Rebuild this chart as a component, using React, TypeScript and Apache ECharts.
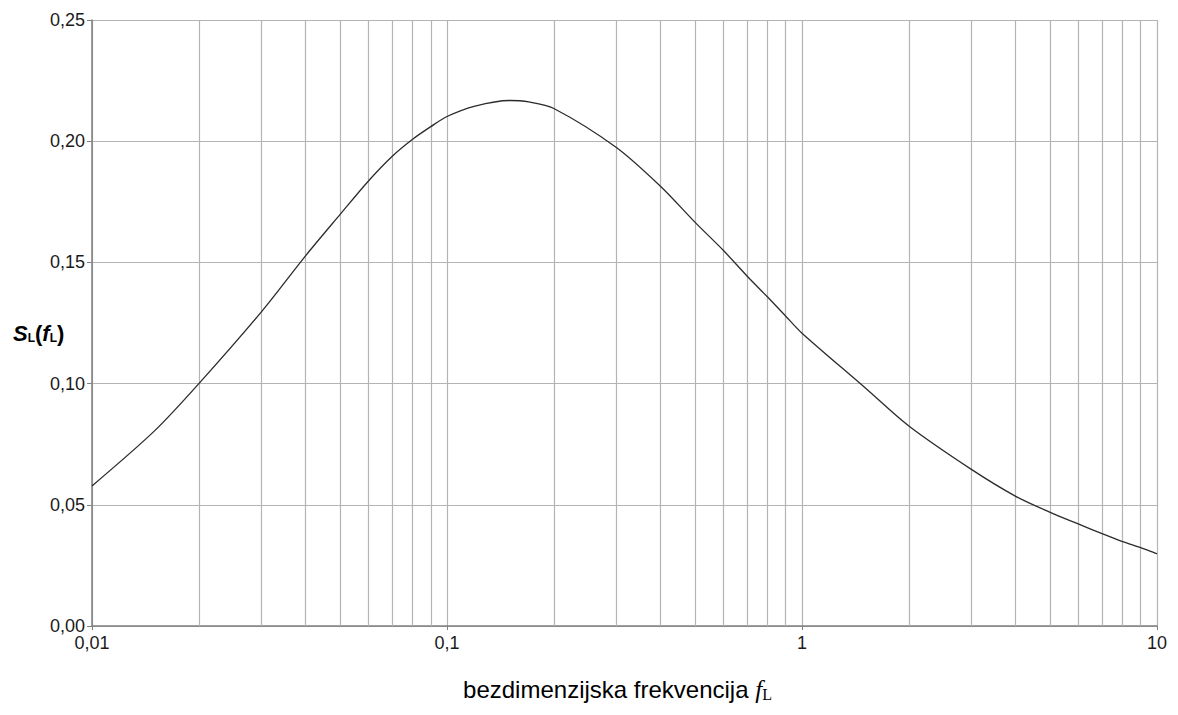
import React, { useEffect, useRef } from "react";
import * as echarts from "echarts";

const freqs = [0.01, 0.015, 0.02, 0.03, 0.04, 0.05, 0.06, 0.07, 0.08, 0.09, 0.1, 0.12, 0.15, 0.17, 0.2, 0.3, 0.4, 0.5, 0.6, 0.7, 0.8, 0.9, 1, 1.5, 2, 3, 4, 5, 6, 7, 8, 9, 10];
const spectrum = [0.0578, 0.0805, 0.1, 0.1296, 0.1528, 0.1698, 0.1835, 0.1937, 0.2008, 0.206, 0.2102, 0.2145, 0.2168, 0.2162, 0.2135, 0.1974, 0.1813, 0.1665, 0.155, 0.1444, 0.1357, 0.1278, 0.1208, 0.0985, 0.0825, 0.0646, 0.0535, 0.0469, 0.0421, 0.0381, 0.0348, 0.0323, 0.0298];
const minorGridX = [0.02, 0.03, 0.04, 0.05, 0.06, 0.07, 0.08, 0.09, 0.2, 0.3, 0.4, 0.5, 0.6, 0.7, 0.8, 0.9, 2, 3, 4, 5, 6, 7, 8, 9];
const yTicks = { min: 0, max: 0.25, interval: 0.05 };

export default function App() {
  const ref = useRef<HTMLDivElement>(null);
  useEffect(() => {
    if (!ref.current) return;
    const chart = echarts.init(ref.current, null, { renderer: "svg" });
    const font = "'Liberation Sans', Arial, sans-serif";
    const serif = "'Liberation Serif', 'Times New Roman', serif";
    chart.setOption({
      animation: false,
      backgroundColor: "#ffffff",
      grid: { left: 84, right: 13, top: 12, bottom: 68, containLabel: false },
      xAxis: {
        type: "log",
        logBase: 10,
        min: 0.01,
        max: 10,
        name: "{a|bezdimenzijska frekvencija }{f|f}{l|L}",
        nameLocation: "middle",
        nameGap: 50,
        nameTextStyle: {
          rich: {
            a: { fontFamily: font, fontSize: 24, color: "#000" },
            f: { fontFamily: serif, fontStyle: "italic", fontSize: 25, color: "#000" },
            l: { fontFamily: serif, fontSize: 16, color: "#000", padding: [10, 14, 0, 0] },
          },
        },
        axisLine: { show: true, lineStyle: { color: "#7f7f7f", width: 1.5 } },
        axisTick: { show: true, length: 4, lineStyle: { color: "#7f7f7f" } },
        axisLabel: {
          fontFamily: font,
          fontSize: 18,
          color: "#1a1a1a",
          margin: 8,
          formatter: (v: number) => String(Number(v.toPrecision(6))).replace(".", ","),
        },
        splitLine: { show: true, lineStyle: { color: "#b4b4b4", width: 1.2 } },
        minorTick: { show: false },
      },
      yAxis: {
        type: "value",
        min: yTicks.min,
        max: yTicks.max,
        interval: yTicks.interval,
        axisLine: { show: true, lineStyle: { color: "#7f7f7f", width: 1.5 } },
        axisTick: { show: true, length: 5, lineStyle: { color: "#7f7f7f" } },
        axisLabel: {
          fontFamily: font,
          fontSize: 18,
          color: "#1a1a1a",
          margin: 7,
          formatter: (v: number) => v.toFixed(2).replace(".", ","),
        },
        splitLine: { show: true, lineStyle: { color: "#b4b4b4", width: 1.2 } },
      },
      graphic: [
        {
          type: "text",
          left: 5,
          top: 314,
          style: {
            text: "{s|S}{sub|L}{p|(}{s|f}{sub|L}{p|)}",
            rich: {
              s: { fontFamily: font, fontStyle: "italic", fontWeight: "bold", fontSize: 22, fill: "#000" },
              p: { fontFamily: font, fontWeight: "bold", fontSize: 22, fill: "#000" },
              sub: { fontFamily: font, fontWeight: "bold", fontSize: 12, fill: "#000", padding: [10, 0, 0, 0] },
            },
          },
        },
      ],
      series: [
        {
          type: "line",
          data: freqs.map((f, i) => [f, spectrum[i]]),
          showSymbol: false,
          symbol: "none",
          smooth: 0.3,
          lineStyle: { color: "#2b2b2b", width: 1.3 },
          silent: true,
          z: 3,
          markLine: {
            silent: true,
            symbol: "none",
            label: { show: false },
            lineStyle: { color: "#b4b4b4", width: 1.2, type: "solid" },
            data: minorGridX.map((x) => ({ xAxis: x })),
            z: 1,
          },
        },
      ],
    });
    return () => chart.dispose();
  }, []);
  return <div ref={ref} style={{ width: 1162, height: 699 }} />;
}
